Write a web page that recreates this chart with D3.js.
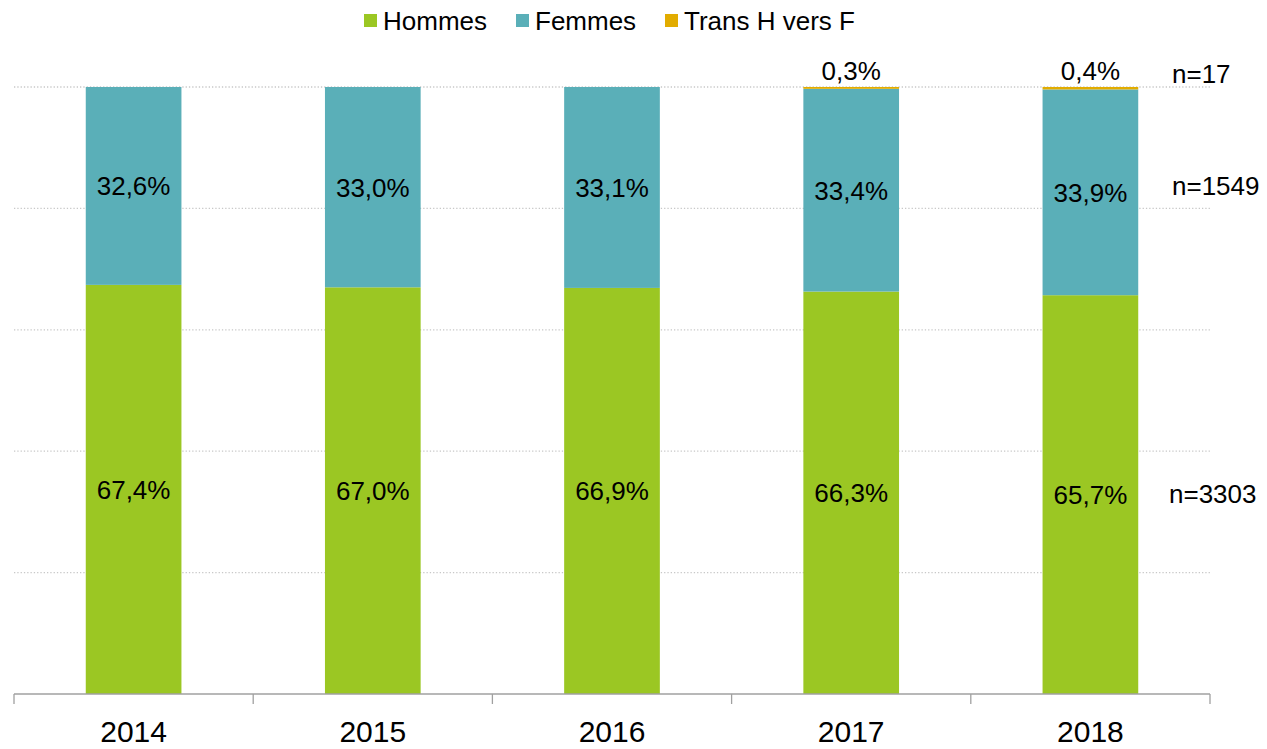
<!DOCTYPE html>
<html><head><meta charset="utf-8">
<script src="https://cdn.jsdelivr.net/npm/d3@7"></script>
<style>body{margin:0;background:#fff;} text{font-family:"Liberation Sans",Arial,sans-serif;fill:#000;}</style>
</head><body><svg id="c" width="1267" height="749"></svg>
<script>
const years = ["2014","2015","2016","2017","2018"];
const hommes = [67.4, 67.0, 66.9, 66.3, 65.7];
const femmes = [32.6, 33.0, 33.1, 33.4, 33.9];
const trans = [0, 0, 0, 0.3, 0.4];
const seriesNames = ["Hommes","Femmes","Trans H vers F"];
const colors = ["#9BC723","#5AAFB8","#E2AC00"];
const nLabels = [{t:"n=3303", v:33}, {t:"n=1549", v:83.7}, {t:"n=17", v:102.2}];
const yTicks = [0,20,40,60,80,100];

const svg = d3.select("#c");
const x = d3.scaleBand().domain(years).range([14,1210]).paddingInner(0.6).paddingOuter(0.3);
const y = d3.scaleLinear().domain([0,100]).range([694,87]);

svg.append("g").selectAll("line").data(yTicks.filter(d=>d>0)).join("line")
  .attr("x1",14).attr("x2",1210).attr("y1",d=>y(d)).attr("y2",d=>y(d))
  .attr("stroke","#c8c8c8").attr("stroke-width",1.3).attr("stroke-dasharray","1.3,2");

const rows = years.map((yr,i)=>({year:yr, Hommes:hommes[i], Femmes:femmes[i], "Trans H vers F":trans[i]}));
const stack = d3.stack().keys(seriesNames)(rows);

svg.append("g").selectAll("g").data(stack).join("g").attr("fill",(d,i)=>colors[i])
  .selectAll("rect").data(d=>d).join("rect")
  .attr("x",d=>x(d.data.year)).attr("width",x.bandwidth())
  .attr("y",d=>y(d[1])).attr("height",d=>y(d[0])-y(d[1]));

const fmt = v => v.toFixed(1).replace(".",",")+"%";
stack.forEach((s,si)=>{
  s.forEach(d=>{
    const v = d[1]-d[0];
    if (v<=0) return;
    const cx = x(d.data.year)+x.bandwidth()/2;
    let cy = si<2 ? (y(d[0])+y(d[1]))/2 : y(d[1])-16;
    svg.append("text").attr("x",cx).attr("y",cy).attr("dy","0.36em")
      .attr("text-anchor","middle").attr("font-size",26).text(fmt(v));
  });
});

svg.append("g").selectAll("text").data(nLabels).join("text")
  .attr("x",(d,i)=>[1169,1172,1172][i]).attr("y",d=>y(d.v)).attr("dy","0.36em")
  .attr("font-size",26).text(d=>d.t);

const ax = svg.append("g");
ax.append("line").attr("x1",14).attr("x2",1210).attr("y1",694).attr("y2",694).attr("stroke","#a0a0a0").attr("stroke-width",1.3);
const bounds = [14].concat(years.map(yr=>x(yr)+x.bandwidth()/2+x.step()/2));
ax.selectAll("line.t").data(bounds).join("line").attr("class","t")
  .attr("x1",d=>d).attr("x2",d=>d).attr("y1",694).attr("y2",704).attr("stroke","#a0a0a0").attr("stroke-width",1.3);
ax.selectAll("text").data(years).join("text")
  .attr("x",d=>x(d)+x.bandwidth()/2).attr("y",742)
  .attr("text-anchor","middle").attr("font-size",30).text(d=>d);

const legX = [364, 516, 665];
const lg = svg.append("g");
seriesNames.forEach((n,i)=>{
  lg.append("rect").attr("x",legX[i]).attr("y",14).attr("width",13).attr("height",13).attr("fill",colors[i]);
  lg.append("text").attr("x",legX[i]+19).attr("y",21).attr("dy","0.36em").attr("font-size",26).text(n);
});
</script></body></html>
